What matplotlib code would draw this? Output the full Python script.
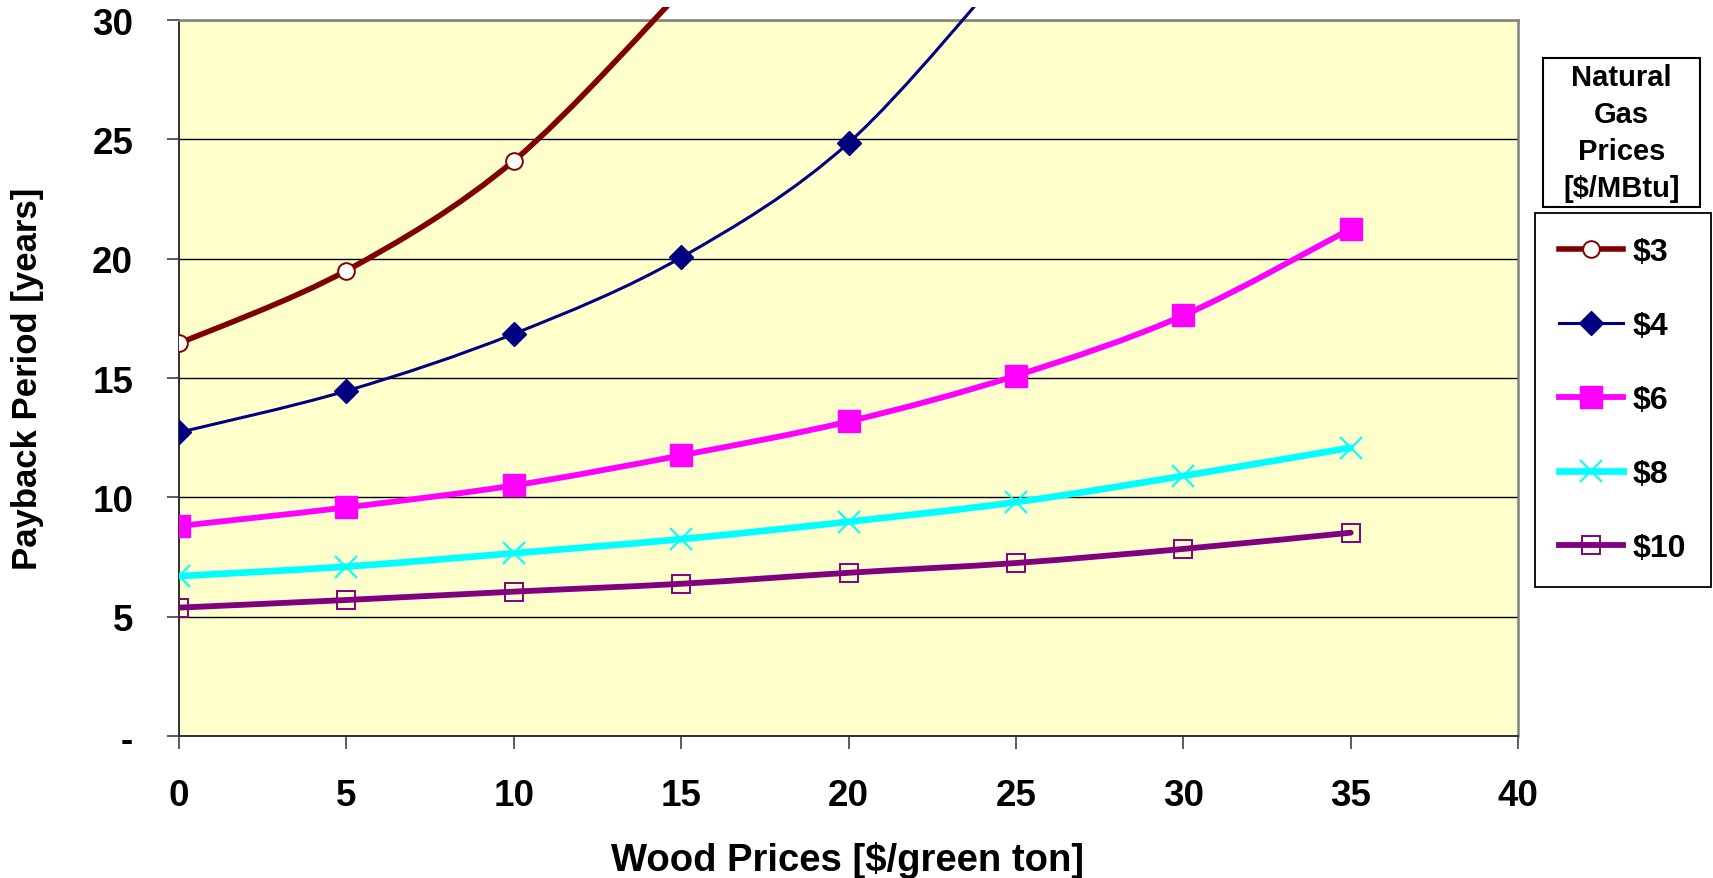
import numpy as np
import matplotlib
matplotlib.use('Agg')
import matplotlib.pyplot as plt
from matplotlib.path import Path
from matplotlib.patches import PathPatch, Rectangle
from matplotlib.lines import Line2D
from matplotlib.ticker import FuncFormatter

plt.rcParams['font.family'] = ['Liberation Sans', 'DejaVu Sans']
plt.rcParams['font.weight'] = 'bold'

# wood price on the x axis, payback period per natural gas price
wood = [0, 5, 10, 15, 20, 25, 30, 35]
gas3 = [16.45, 19.5, 24.1, 31.2]
gas4 = [12.72, 14.46, 16.85, 20.05, 24.85, 32.6]
gas6 = [8.8, 9.58, 10.5, 11.76, 13.18, 15.1, 17.62, 21.25]
gas8 = [6.7, 7.1, 7.66, 8.25, 8.98, 9.8, 10.9, 12.08]
gas10 = [5.38, 5.7, 6.05, 6.38, 6.84, 7.25, 7.84, 8.52]
labels = ['$3', '$4', '$6', '$8', '$10']

styles = [
    dict(color='#800000', lw=4.0, marker='o', ms=12, mfc='white', mec='#800000', mew=1.4),
    dict(color='#000080', lw=2.2, marker='D', ms=12.5, mfc='#000080', mec='#000080', mew=1),
    dict(color='#FF00FF', lw=4.2, marker='s', ms=15.5, mfc='#FF00FF', mec='#FF00FF', mew=1),
    dict(color='#00FFFF', lw=4.8, marker='x', ms=16.5, mfc='#00FFFF', mec='#00FFFF', mew=1.5),
    dict(color='#800080', lw=4.2, marker='s', ms=12.5, mfc='none', mec='#800080', mew=1.4),
]


def smooth_path(x, y):
    # excel style smoothed line: bezier through the points
    pts = np.column_stack([x, y]).astype(float)
    n = len(pts)
    verts = [pts[0]]
    codes = [Path.MOVETO]
    for i in range(n - 1):
        p0 = pts[max(i - 1, 0)]
        p1, p2 = pts[i], pts[i + 1]
        p3 = pts[min(i + 2, n - 1)]
        verts += [p1 + (p2 - p0) / 6, p2 - (p3 - p1) / 6, p2]
        codes += [Path.CURVE4] * 3
    return Path(verts, codes)


fig = plt.figure(figsize=(17.13, 8.79), dpi=100)
ax = fig.add_axes([0.1045, 0.1615, 0.7817, 0.8146])
ax.set_facecolor('#FFFFCC')

series = [gas3, gas4, gas6, gas8, gas10]
for vals, st in zip(series, styles):
    xs = wood[:len(vals)]
    patch = PathPatch(smooth_path(xs, vals), facecolor='none', edgecolor=st['color'],
                      lw=st['lw'], zorder=3, capstyle='round', joinstyle='round')
    ax.add_patch(patch)
    # lines run a little above the plot area, like the original
    clip = Rectangle((0, 0), 1, 1 + 13 / 716, transform=ax.transAxes)
    patch.set_clip_path(clip)
    ax.plot(xs, vals, linestyle='none', marker=st['marker'], ms=st['ms'],
            mfc=st['mfc'], mec=st['mec'], mew=st['mew'], zorder=4)

ax.set_xlim(0, 40)
ax.set_ylim(0, 30)
ax.set_xticks(range(0, 41, 5))
ax.set_yticks(range(0, 31, 5))
ax.yaxis.set_major_formatter(FuncFormatter(lambda v, p: '-' if v == 0 else f'{v:g}'))
ax.grid(axis='y', color='black', lw=1.0)
ax.set_axisbelow(True)
ax.tick_params(axis='both', direction='out', length=9, width=1.2, labelsize=26.5, color='#404040')
ax.tick_params(axis='x', pad=21)
ax.tick_params(axis='y', pad=24)
for side in ['top', 'right']:
    ax.spines[side].set_color('#808080')
    ax.spines[side].set_linewidth(1.8)
for side in ['left', 'bottom']:
    ax.spines[side].set_color('#303030')
    ax.spines[side].set_linewidth(1.4)

fig.text(0.0163, 0.569, 'Payback Period [years]', rotation=90, ha='center', va='center', fontsize=25)
fig.text(0.495, 0.0205, 'Wood Prices [$/green ton]', ha='center', va='center', fontsize=27.5)

# legend title box
fig.patches.append(Rectangle((0.9008, 0.7634), 0.0917, 0.1695, transform=fig.transFigure,
                             facecolor='white', edgecolor='black', lw=1.5))
fig.text(0.9466, 0.8481, 'Natural\nGas\nPrices\n[$/MBtu]', ha='center', va='center',
         fontsize=21, linespacing=1.4)

handles = [Line2D([], [], color=st['color'], lw=st['lw'], marker=st['marker'], ms=st['ms'],
                  mfc=st['mfc'], mec=st['mec'], mew=st['mew']) for st in styles]
leg = fig.legend(handles, labels, loc='upper left', bbox_to_anchor=(0.8961, 0.3424, 0.1027, 0.4141),
                 bbox_transform=fig.transFigure, mode='expand', borderaxespad=0, fontsize=23,
                 borderpad=0.75, labelspacing=1.38, handlelength=2.0, handletextpad=0.3,
                 fancybox=False, edgecolor='black', framealpha=1)
leg.get_frame().set_linewidth(1.3)

fig.savefig('out.png', dpi=100)
